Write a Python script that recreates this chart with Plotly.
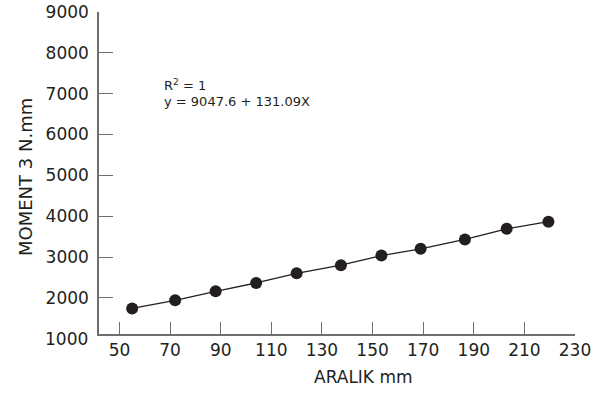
import plotly.graph_objects as go

aralik = [55, 72, 88, 104, 120, 137.5, 153.5, 169, 186.5, 203, 219.5]
moment = [1740, 1940, 2160, 2365, 2600, 2800, 3035, 3200, 3430, 3690, 3865]
x_ticks = [50, 70, 90, 110, 130, 150, 170, 190, 210, 230]
y_ticks = [2000, 3000, 4000, 5000, 6000, 7000, 8000, 9000]

ink = "#231f20"
axis_col = "#6d6e71"
font_family = "DejaVu Sans, Verdana, sans-serif"

W, H = 603, 394
L, R, T, B = 99, 28, 12, 60
Y0, Y1 = 1115, 9000

fig = go.Figure()
fig.add_trace(go.Scatter(
    x=aralik, y=moment, mode="lines+markers",
    line=dict(color=ink, width=1.3),
    marker=dict(color=ink, size=12),
    showlegend=False, cliponaxis=False, hoverinfo="skip",
))

pw = W - L - R
ph = H - T - B

def px_x(v):
    return (v - L) / pw

def px_y(v):
    return 1 - (v - T) / ph

fig.update_layout(
    template="none",
    width=W, height=H,
    margin=dict(l=L, r=R, t=T, b=B, pad=0),
    paper_bgcolor="white", plot_bgcolor="white",
    font=dict(family=font_family, color=ink, size=17),
    xaxis=dict(
        range=[41.9, 230], tickvals=x_ticks, ticks="inside", ticklen=12,
        tickcolor=axis_col, tickwidth=1.3, showline=True, linecolor=axis_col, linewidth=1.5,
        showgrid=False, zeroline=False, automargin=False,
        tickfont=dict(size=17, color=ink),
    ),
    yaxis=dict(
        range=[Y0, Y1], tickvals=y_ticks, ticks="inside", ticklen=14,
        tickcolor=axis_col, tickwidth=1.3, showline=True, linecolor=axis_col, linewidth=1.5,
        showgrid=False, zeroline=False, automargin=False, ticklabelstandoff=5,
        tickfont=dict(size=17, color=ink),
    ),
    annotations=[
        dict(text="1000", x=0, xref="paper", xanchor="right", xshift=-9,
             y=(1000 - Y0) / (Y1 - Y0), yref="paper", yanchor="middle", showarrow=False,
             font=dict(size=17, color=ink)),
        dict(text="ARALIK mm", x=px_x(363), xref="paper", xanchor="center",
             y=px_y(377), yref="paper", yanchor="middle", showarrow=False,
             font=dict(size=17, color=ink)),
        dict(text="MOMENT 3 N.mm", textangle=-90, x=px_x(25), y=px_y(177),
             xref="paper", yref="paper", xanchor="center", yanchor="middle",
             showarrow=False, font=dict(size=18, color=ink)),
        dict(text="R<sup>2</sup> = 1", align="left", borderpad=0,
             x=px_x(163), y=px_y(85), xref="paper", yref="paper",
             xanchor="left", yanchor="middle",
             showarrow=False, font=dict(size=13, color=ink)),
        dict(text="y = 9047.6 + 131.09X", align="left", borderpad=0,
             x=px_x(163), y=px_y(102), xref="paper", yref="paper",
             xanchor="left", yanchor="middle",
             showarrow=False, font=dict(size=13, color=ink)),
    ],
)

fig.write_html("out.html", config={"displayModeBar": False},
               post_script="document.body.style.margin='0';")
